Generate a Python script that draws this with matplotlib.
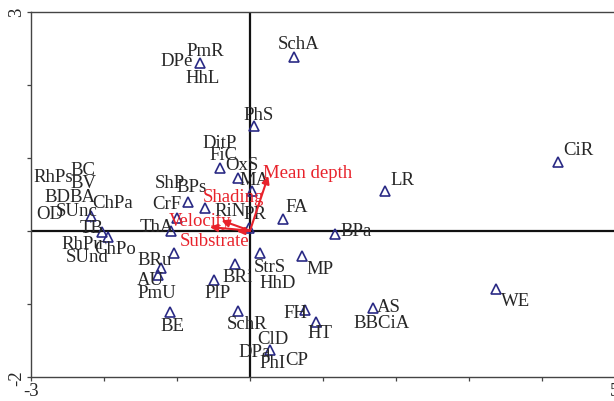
import matplotlib
matplotlib.use("Agg")
import matplotlib.pyplot as plt

# Species scores (triangles)
sp_x = [-0.685, 0.607, 0.059, -0.41, -0.17, 0.03, -2.18, -2.03, -1.95, -1.08,
        -1.0, -0.85, -0.62, -0.02, 0.45, 1.17, 0.14, 0.71, -1.04, -1.22,
        -1.26, -0.50, -0.21, -1.10, -0.17, 0.28, 0.75, 0.90, 1.68, 3.37,
        4.22, 1.85]
sp_y = [2.293, 2.375, 1.43, 0.86, 0.72, 0.55, 0.205, -0.02, -0.08, 0.0,
        0.18, 0.40, 0.31, 0.04, 0.16, -0.05, -0.31, -0.34, -0.30, -0.51,
        -0.61, -0.67, -0.46, -1.12, -1.10, -1.64, -1.09, -1.25, -1.06, -0.80,
        0.945, 0.55]

# Species labels
labels = ["PmR", "DPe", "HhL", "SchA", "PhS", "DitP", "FiC", "OxS", "MA",
          "RhPs", "BC", "BV", "BD", "BA", "ChPa", "OD", "SUnc", "TB",
          "RhPu", "ChPo", "SUnd", "ThA", "CrF", "ShP", "BPs", "RiN", "PR",
          "FA", "BPa", "StrS", "HhD", "MP", "BRu", "AU", "PmU", "PlP", "BRi",
          "BE", "SchR", "ClD", "DPa", "PhI", "CP", "FH", "HT", "AS", "BBCiA",
          "WE", "CiR", "LR"]
label_x = [-0.616, -1.0, -0.644, 0.671, 0.123, -0.411, -0.356, -0.110, 0.068,
           -2.699, -2.288, -2.288, -2.644, -2.301, -1.877, -2.740, -2.370, -2.164,
           -2.301, -1.849, -2.233, -1.274, -1.137, -1.096, -0.795, -0.274, 0.068,
           0.644, 1.452, 0.274, 0.384, 0.959, -1.301, -1.370, -1.274, -0.438, -0.164,
           -1.068, -0.041, 0.315, 0.068, 0.315, 0.644, 0.616, 0.959, 1.904, 1.808,
           3.644, 4.493, 2.082]
label_y = [2.462, 2.325, 2.092, 2.558, 1.598, 1.215, 1.037, 0.900, 0.708,
           0.749, 0.845, 0.667, 0.462, 0.462, 0.393, 0.229, 0.270, 0.037,
           -0.182, -0.237, -0.360, 0.051, 0.379, 0.667, 0.599, 0.270, 0.229,
           0.338, -0.004, -0.484, -0.703, -0.511, -0.388, -0.662, -0.840, -0.840, -0.621,
           -1.292, -1.278, -1.470, -1.648, -1.799, -1.771, -1.127, -1.401, -1.032, -1.251,
           -0.963, 1.119, 0.708]

# Environmental variables (arrows)
env_names = ["Mean depth", "Shading", "Velocity", "Substrate"]
env_x = [0.25, -0.39, -0.55, -0.18]
env_y = [0.75, 0.14, 0.05, -0.01]
env_lab_x = [0.795, -0.233, -0.685, -0.479]
env_lab_y = [0.804, 0.462, 0.141, -0.137]

RED = "#e8222b"
NAVY = "#2a2a85"
TXT = "#262626"
FONT = "Liberation Serif"
FS = 13.5

fig = plt.figure(figsize=(6.14, 4.02), dpi=100)
ax = fig.add_axes([31 / 614, (402 - 377.7) / 402, 584 / 614, 365 / 402])
ax.set_xlim(-3, 5)
ax.set_ylim(-2, 3)

ax.axhline(0, color="#111111", lw=1.6, zorder=1)
ax.axvline(0, color="#111111", lw=1.6, zorder=1)

ax.plot(sp_x, sp_y, linestyle="none", marker="^", markersize=7.5,
        markerfacecolor="none", markeredgecolor=NAVY, markeredgewidth=1.2, zorder=3)

for t, x, y in zip(labels, label_x, label_y):
    ax.text(x, y, t, ha="center", va="center", fontsize=FS, color=TXT,
            family=FONT, zorder=4)

for n, x, y, lx, ly in zip(env_names, env_x, env_y, env_lab_x, env_lab_y):
    ax.annotate("", xy=(x, y), xytext=(0, 0),
                arrowprops=dict(arrowstyle="-|>", color=RED, lw=1.5,
                                mutation_scale=11, shrinkA=0, shrinkB=0),
                zorder=5)
    ax.text(lx, ly, n, ha="center", va="center", fontsize=FS, color=RED,
            family=FONT, zorder=6)

for s in ["top", "left", "bottom", "right"]:
    ax.spines[s].set_color("#444444")
    ax.spines[s].set_linewidth(1.0)

ax.set_xticks(range(-3, 6))
ax.set_xticklabels(["-3"] + [""] * 7 + ["5"])
ax.set_yticks(range(-2, 4))
ax.set_yticklabels(["-2"] + [""] * 4 + ["3"])
ax.tick_params(direction="out", length=3, width=0.9, color="#444444",
               labelsize=FS, labelcolor=TXT, pad=1)
for lab in ax.get_xticklabels() + ax.get_yticklabels():
    lab.set_family(FONT)
for lab in ax.get_yticklabels():
    lab.set_rotation(90)
    lab.set_va("center")

fig.savefig("out.png", dpi=100)
